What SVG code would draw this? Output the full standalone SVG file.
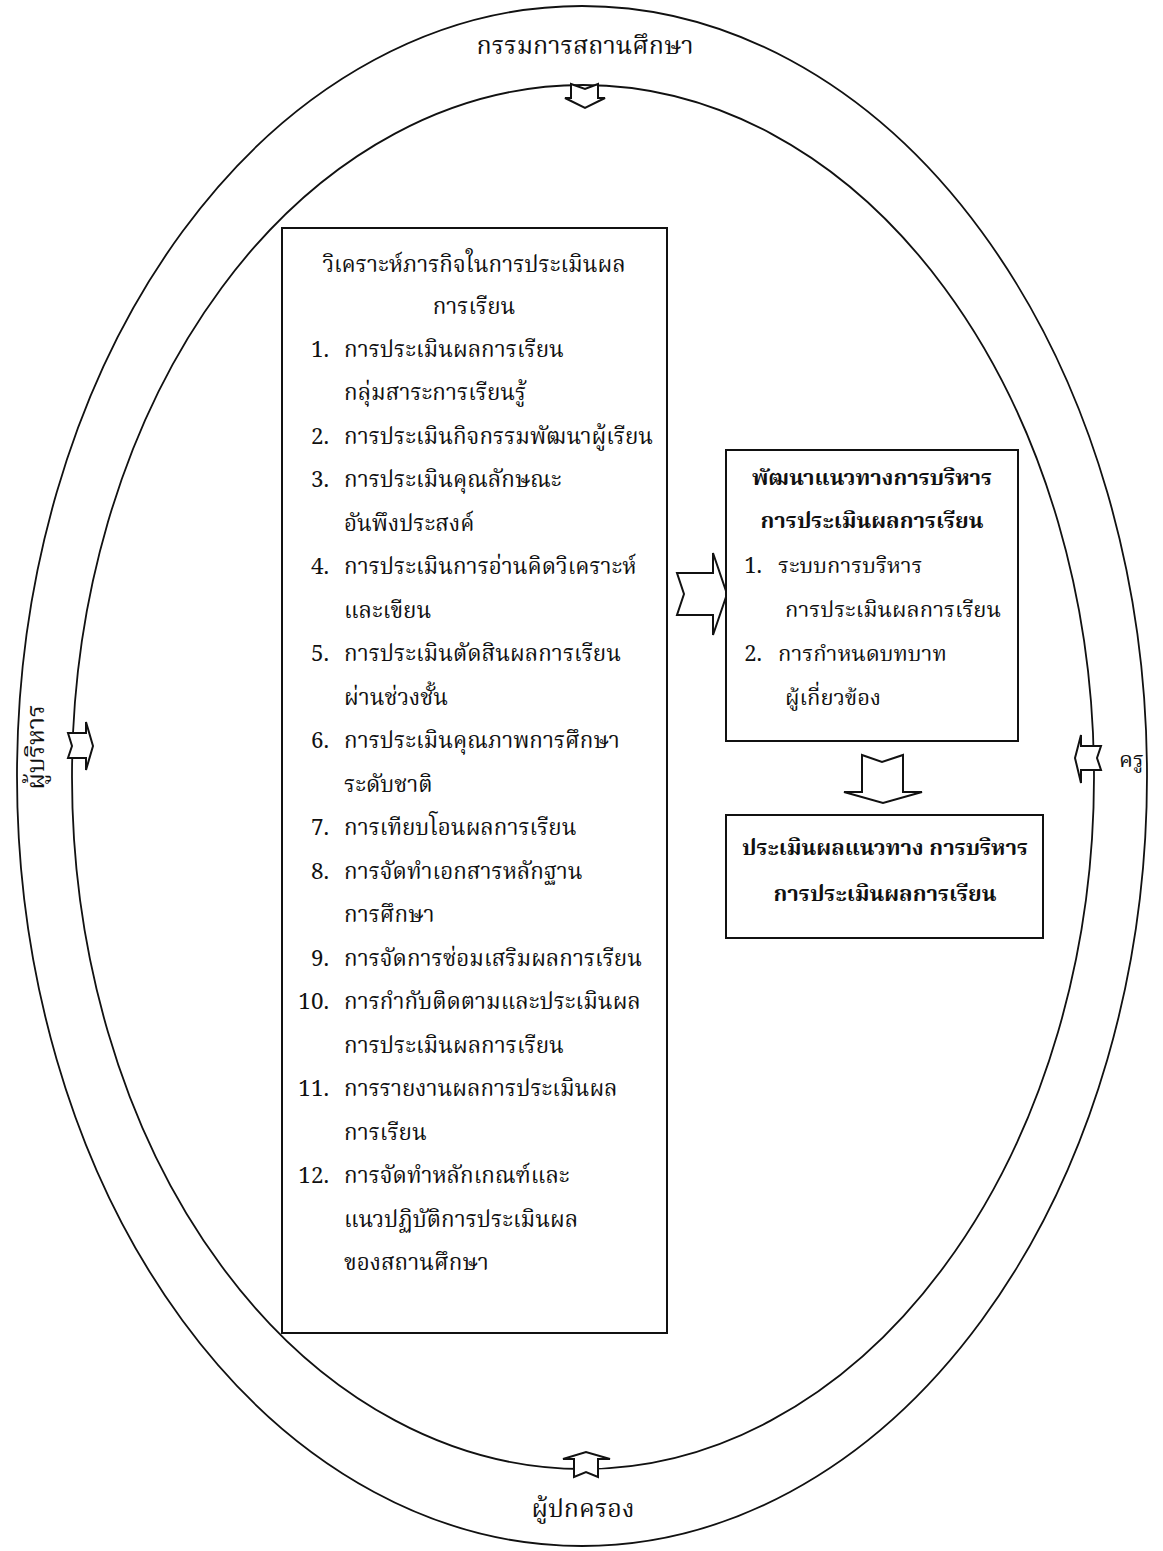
<svg xmlns="http://www.w3.org/2000/svg" width="1163" height="1551" viewBox="0 0 1163 1551">
<style>
  text { font-family: "Noto Serif Thai", "Noto Sans Thai", "Noto Sans", "Liberation Serif", serif; font-size: 22px; fill: #111; }
  .m { font-size: 22.4px; }
  .b { font-weight: bold; }
  .c { text-anchor: middle; }
  .n { text-anchor: end; }
  .lbl { font-size: 25px; }
  .ring { fill: none; stroke: #111; stroke-width: 1.8; }
  .box { fill: #fff; stroke: #111; stroke-width: 2; }
  .arr { fill: #fff; stroke: #111; stroke-width: 2; stroke-linejoin: miter; }
</style>
<rect width="1163" height="1551" fill="#fff"/>
<g id="rings">
  <ellipse class="ring" cx="582" cy="776" rx="565" ry="770"/>
  <ellipse class="ring" cx="583" cy="777" rx="511" ry="692"/>
</g>
<g id="labels">
  <text class="c lbl" x="585" y="54">กรรมการสถานศึกษา</text>
  <text class="c lbl" x="583" y="1517">ผู้ปกครอง</text>
  <text class="c lbl" transform="translate(44,747) rotate(-90)">ผู้บริหาร</text>
  <text x="1119" y="767">ครู</text>
</g>
<g id="connectors">
  <path class="arr" d="M571,84 L585,89 L598,84 L598,98 L605,98 L585,108 L565,98 L571,98 Z"/>
  <path class="arr" d="M574,1477 L574,1459 L563,1459 L586,1452 L610,1459 L598,1459 L598,1477 L586,1472 Z"/>
  <path class="arr" d="M68,733 L86,733 L86,722 L93,746 L86,770 L86,758 L68,758 L72,746 Z"/>
  <path class="arr" d="M1101,746 L1081,746 L1081,735 L1075,758 L1081,783 L1081,770 L1101,770 L1097,758 Z"/>
  <path class="arr" d="M677,573 L713,573 L713,553 L727,594 L713,635 L713,615 L677,615 L684,594 Z"/>
  <path class="arr" d="M862,755 L882,762 L903,755 L903,792 L922,792 L883,803 L844,792 L862,792 Z"/>
</g>
<g id="node-analysis" class="m">
  <rect class="box" x="282" y="228" width="385" height="1105"/>
  <text class="c m" x="474" y="272">วิเคราะห์ภารกิจในการประเมินผล</text>
  <text class="c m" x="474" y="314">การเรียน</text>
  <text class="n m" x="329" y="357">1.</text><text class="m" x="344" y="357">การประเมินผลการเรียน</text>
  <text class="m" x="344" y="400">กลุ่มสาระการเรียนรู้</text>
  <text class="n m" x="329" y="444">2.</text><text class="m" x="344" y="444">การประเมินกิจกรรมพัฒนาผู้เรียน</text>
  <text class="n m" x="329" y="487">3.</text><text class="m" x="344" y="487">การประเมินคุณลักษณะ</text>
  <text class="m" x="344" y="531">อันพึงประสงค์</text>
  <text class="n m" x="329" y="574">4.</text><text class="m" x="344" y="574">การประเมินการอ่านคิดวิเคราะห์</text>
  <text class="m" x="344" y="618">และเขียน</text>
  <text class="n m" x="329" y="661">5.</text><text class="m" x="344" y="661">การประเมินตัดสินผลการเรียน</text>
  <text class="m" x="344" y="705">ผ่านช่วงชั้น</text>
  <text class="n m" x="329" y="748">6.</text><text class="m" x="344" y="748">การประเมินคุณภาพการศึกษา</text>
  <text class="m" x="344" y="792">ระดับชาติ</text>
  <text class="n m" x="329" y="835">7.</text><text class="m" x="344" y="835">การเทียบโอนผลการเรียน</text>
  <text class="n m" x="329" y="879">8.</text><text class="m" x="344" y="879">การจัดทำเอกสารหลักฐาน</text>
  <text class="m" x="344" y="922">การศึกษา</text>
  <text class="n m" x="329" y="966">9.</text><text class="m" x="344" y="966">การจัดการซ่อมเสริมผลการเรียน</text>
  <text class="n m" x="329" y="1009">10.</text><text class="m" x="344" y="1009">การกำกับติดตามและประเมินผล</text>
  <text class="m" x="344" y="1053">การประเมินผลการเรียน</text>
  <text class="n m" x="329" y="1096">11.</text><text class="m" x="344" y="1096">การรายงานผลการประเมินผล</text>
  <text class="m" x="344" y="1140">การเรียน</text>
  <text class="n m" x="329" y="1183">12.</text><text class="m" x="344" y="1183">การจัดทำหลักเกณฑ์และ</text>
  <text class="m" x="344" y="1227">แนวปฏิบัติการประเมินผล</text>
  <text class="m" x="344" y="1270">ของสถานศึกษา</text>
</g>
<g id="node-develop">
  <rect class="box" x="726" y="450" width="292" height="291"/>
  <text class="c b" x="872" y="485">พัฒนาแนวทางการบริหาร</text>
  <text class="c b" x="872" y="528">การประเมินผลการเรียน</text>
  <text class="n" x="762" y="573">1.</text><text x="778" y="573">ระบบการบริหาร</text>
  <text x="785" y="617">การประเมินผลการเรียน</text>
  <text class="n" x="762" y="661">2.</text><text x="778" y="661">การกำหนดบทบาท</text>
  <text x="785" y="705">ผู้เกี่ยวข้อง</text>
</g>
<g id="node-evaluate">
  <rect class="box" x="726" y="815" width="317" height="123"/>
  <text class="c b" x="885" y="855">ประเมินผลแนวทาง การบริหาร</text>
  <text class="c b" x="885" y="901">การประเมินผลการเรียน</text>
</g>
</svg>
